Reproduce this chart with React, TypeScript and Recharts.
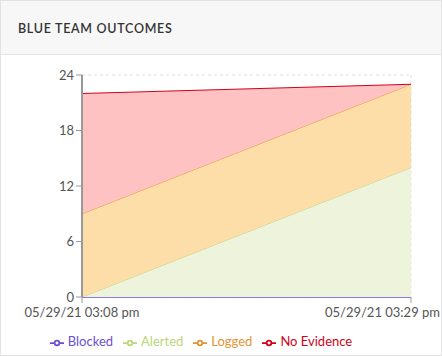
import React from "react";
import { AreaChart, Area, XAxis, YAxis, CartesianGrid, Legend } from "recharts";

const times = ["05/29/21 03:08 pm", "05/29/21 03:29 pm"];
const blocked = [0, 0];
const alerted = [0, 14];
const logged = [9, 9];
const noEvidence = [13, 0];
const yTicks = [0, 6, 12, 18, 24];

const data = times.map((t, i) => ({
  time: t,
  Blocked: blocked[i],
  Alerted: alerted[i],
  Logged: logged[i],
  "No Evidence": noEvidence[i],
}));

const FONT = "'Source Sans Pro', Lato, 'Open Sans', sans-serif";

const XTick = (props: any) => {
  const { x, y, payload, index, visibleTicksCount } = props;
  const last = index === (visibleTicksCount ?? times.length) - 1;
  return (
    <text
      x={x}
      y={y}
      dy={12}
      dx={last ? 29 : 0}
      textAnchor={last ? "end" : "middle"}
      fill="#555"
      fontSize={13}
      fontFamily={FONT}
    >
      {payload.value}
    </text>
  );
};

export default function App() {
  return (
    <div
      style={{
        position: "absolute",
        left: 0,
        top: 0,
        width: 440,
        height: 354,
        border: "1px solid #e3e3e3",
        background: "#fff",
        fontFamily: FONT,
      }}
    >
      <div
        style={{
          height: 54,
          background: "#f7f7f7",
          borderBottom: "1px solid #e3e3e3",
          boxSizing: "border-box",
          paddingLeft: 17,
          paddingTop: 20,
          fontSize: 12.5,
          fontWeight: 600,
          letterSpacing: 0.7,
          color: "#333",
        }}
      >
        BLUE TEAM OUTCOMES
      </div>
      <AreaChart
        width={440}
        height={300}
        data={data}
        margin={{ top: 20, right: 30, left: 0, bottom: 0 }}
      >
        <CartesianGrid stroke="#ddd" strokeDasharray="3 3" />
        <XAxis
          dataKey="time"
          tick={<XTick />}
          tickLine={{ stroke: "#999" }}
          axisLine={false}
          interval={0}
          height={36}
        />
        <YAxis
          ticks={yTicks}
          domain={[0, 24]}
          width={81}
          tick={{ fill: "#555", fontSize: 13, fontFamily: FONT }}
          tickLine={{ stroke: "#999" }}
          axisLine={{ stroke: "#999", strokeWidth: 2 }}
        />
        <Area
          type="linear"
          dataKey="Blocked"
          stackId="1"
          stroke="#6b4fd3"
          strokeWidth={1.5}
          fill="#d9d0f5"
          fillOpacity={1}
          isAnimationActive={false}
        />
        <Area
          type="linear"
          dataKey="Alerted"
          stackId="1"
          stroke="#bcd67a"
          fill="#eef3db"
          fillOpacity={1}
          isAnimationActive={false}
        />
        <Area
          type="linear"
          dataKey="Logged"
          stackId="1"
          stroke="#e39436"
          fill="#fddea8"
          fillOpacity={1}
          isAnimationActive={false}
        />
        <Area
          type="linear"
          dataKey="No Evidence"
          stackId="1"
          stroke="#d0021b"
          fill="#ffc2c2"
          fillOpacity={1}
          isAnimationActive={false}
        />
        <Legend
          verticalAlign="bottom"
          height={22}
          itemSorter={null as any}
          wrapperStyle={{ fontSize: 13, fontFamily: FONT }}
          iconSize={14}
        />
      </AreaChart>
    </div>
  );
}
